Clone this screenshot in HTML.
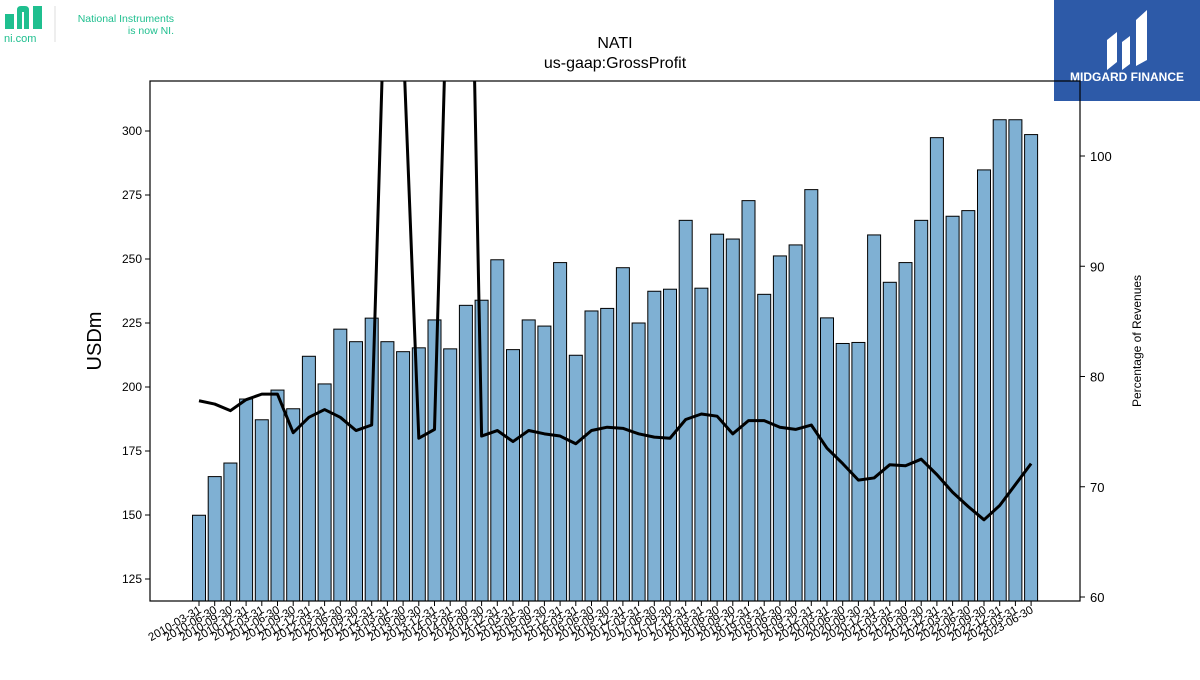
<!DOCTYPE html>
<html><head><meta charset="utf-8"><style>
body{margin:0;background:#fff;width:1200px;height:675px;overflow:hidden;font-family:"Liberation Sans",sans-serif}
</style></head><body>
<svg width="1200" height="675" viewBox="0 0 1200 675" xmlns="http://www.w3.org/2000/svg">
<defs><clipPath id="plot"><rect x="150" y="81" width="930" height="520"/></clipPath></defs>
<g>
<rect x="5" y="14" width="9" height="15" fill="#1fbf8f"/>
<path d="M17 29 V10 Q17 6 21 6 H25 Q29 6 29 10 V29 H24 V12 H22 V29 Z" fill="#1fbf8f"/>
<rect x="33" y="6" width="9" height="23" fill="#1fbf8f"/>
<text x="4" y="42" font-size="11" fill="#1fbf8f">ni.com</text>
<line x1="55" y1="6" x2="55" y2="42" stroke="#ddd"/>
<text x="174" y="22" font-size="10.5" fill="#1fbf8f" text-anchor="end">National Instruments</text>
<text x="174" y="34" font-size="10.5" fill="#1fbf8f" text-anchor="end">is now NI.</text>
</g>
<g>
<rect x="1054" y="0" width="146" height="101" fill="#2d5aa8"/>
<path d="M1107 70 V40 L1117 32 V62 Z M1122 70 V42 L1130 36 V64 Z M1136 66 V20 L1147 10 V60 Z" fill="#fff"/>
<text x="1127" y="81" font-size="12" font-weight="bold" fill="#fff" text-anchor="middle">MIDGARD FINANCE</text>
</g>
<text x="615" y="48" font-size="16" text-anchor="middle">NATI</text>
<text x="615" y="68" font-size="16" text-anchor="middle">us-gaap:GrossProfit</text>
<g id="bars"></g>
<g id="line" clip-path="url(#plot)"></g>
<rect x="150" y="81" width="930" height="520" fill="none" stroke="#000" stroke-width="1.2"/>
<g id="axes"></g>
<text transform="translate(101,341) rotate(-90)" font-size="20" text-anchor="middle">USDm</text>
<text transform="translate(1141,341) rotate(-90)" font-size="12" text-anchor="middle">Percentage of Revenues</text>
</svg>
<script>
const dates=[];
for(let y=2010;y<=2023;y++){for(const q of ["03-31","06-30","09-30","12-31"]){dates.push(y+"-"+q);}}
dates.splice(54);
const grossProfit=[149.9,165.0,170.3,195.3,187.2,198.8,191.5,212.0,201.2,222.6,217.7,226.9,217.7,213.8,215.3,226.2,214.9,231.9,233.9,249.7,214.6,226.2,223.8,248.6,212.4,229.7,230.7,246.6,225.0,237.4,238.2,265.1,238.6,259.7,257.8,272.8,236.2,251.2,255.5,277.1,227.0,217.0,217.4,259.4,240.9,248.6,265.1,297.4,266.7,268.9,284.8,304.4,304.4,298.6];
const marginPct=[77.8,77.5,76.9,77.9,78.4,78.4,74.9,76.3,77.0,76.3,75.1,75.6,123.3,110.7,74.4,75.2,125.7,147,74.6,75.1,74.1,75.1,74.8,74.6,73.9,75.1,75.4,75.3,74.8,74.5,74.4,76.1,76.6,76.4,74.8,76.0,76.0,75.4,75.2,75.6,73.5,72.1,70.6,70.8,72.0,71.9,72.5,71.1,69.5,68.2,67.0,68.3,70.2,72.1];
const leftTicks=[125,150,175,200,225,250,275,300];
const rightTicks=[60,70,80,90,100];
const NS="http://www.w3.org/2000/svg";
const xs=i=>199+i*15.7;
const yL=v=>579-(v-125)*2.56;
const yR=v=>597-(v-60)*11.025;
function mk(tag,attrs,parent){const e=document.createElementNS(NS,tag);for(const k in attrs)e.setAttribute(k,attrs[k]);parent.appendChild(e);return e;}
const bars=document.getElementById('bars');
grossProfit.forEach((v,i)=>{
 const r=mk('rect',{x:xs(i)-6.5,y:yL(v),width:13,height:601-yL(v),fill:'#7fb0d3',stroke:'#000','stroke-width':1},bars);
 
 
});
const lg=document.getElementById('line');
const p=mk('polyline',{points:marginPct.map((v,i)=>xs(i)+','+yR(v)).join(' '),fill:'none',stroke:'#000','stroke-width':3,'stroke-linejoin':'round'},lg);


const ax=document.getElementById('axes');
leftTicks.forEach(t=>{
 mk('line',{x1:145,x2:150,y1:yL(t),y2:yL(t),stroke:'#000'},ax);
 const tx=mk('text',{x:142,y:yL(t)+4,'font-size':12,'text-anchor':'end'},ax);tx.textContent=t;
 
 
});
rightTicks.forEach(t=>{
 mk('line',{x1:1080,x2:1085,y1:yR(t),y2:yR(t),stroke:'#000'},ax);
 const tx=mk('text',{x:1090,y:yR(t)+5,'font-size':13},ax);tx.textContent=t;
 
 
});
dates.forEach((d,i)=>{
 mk('line',{x1:xs(i),x2:xs(i),y1:601,y2:606,stroke:'#000'},ax);
 const tx=mk('text',{transform:`translate(${xs(i)+3},${612}) rotate(-30)`,'font-size':11.5,'text-anchor':'end'},ax);tx.textContent=d;
 
 
});
</script>
</body></html>
